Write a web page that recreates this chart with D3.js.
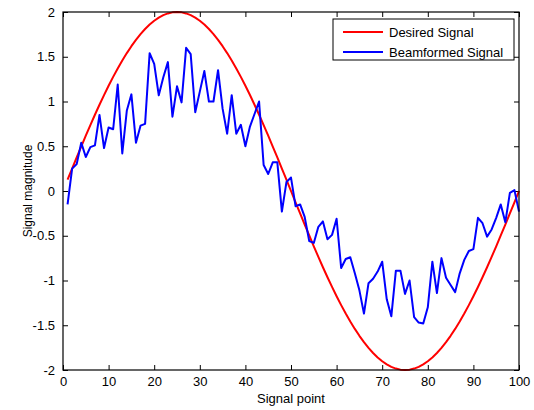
<!DOCTYPE html>
<html>
<head>
<meta charset="utf-8">
<script src="https://cdn.jsdelivr.net/npm/d3@7"></script>
<style>
  body { margin: 0; background: #fff; }
  svg { display: block; font-family: Arial, "Liberation Sans", sans-serif; }
</style>
</head>
<body>
<div id="chart"></div>
<script>
// signal index 1..100
const points = d3.range(1, 101);

// desired signal
const desiredHalf = [
  0.126, 0.251, 0.375, 0.497, 0.618, 0.736, 0.852, 0.964, 1.072, 1.176,
  1.275, 1.369, 1.458, 1.541, 1.618, 1.689, 1.753, 1.810, 1.860, 1.902,
  1.937, 1.965, 1.984, 1.996, 2.000, 1.996, 1.984, 1.965, 1.937, 1.902,
  1.860, 1.810, 1.753, 1.689, 1.618, 1.541, 1.458, 1.369, 1.275, 1.176,
  1.072, 0.964, 0.852, 0.736, 0.618, 0.497, 0.375, 0.251, 0.126, 0.000
];
const desired = desiredHalf.concat(desiredHalf.map((v) => -v));

// beamformed signal (blue, noisy)
const beamformed = [
  -0.15, 0.25, 0.30, 0.54, 0.38, 0.49, 0.51, 0.85, 0.48, 0.71,
  0.69, 1.19, 0.42, 0.90, 1.08, 0.54, 0.73, 0.75, 1.54, 1.42,
  1.07, 1.27, 1.44, 0.83, 1.17, 0.99, 1.60, 1.53, 0.88, 1.11,
  1.34, 1.00, 1.00, 1.35, 0.92, 0.64, 1.07, 0.64, 0.74, 0.50,
  0.72, 0.86, 1.00, 0.29, 0.19, 0.32, 0.32, -0.23, 0.10, 0.15,
  -0.17, -0.15, -0.29, -0.56, -0.58, -0.40, -0.34, -0.54, -0.49, -0.31,
  -0.86, -0.76, -0.74, -0.92, -1.11, -1.37, -1.03, -0.98, -0.90, -0.79,
  -1.21, -1.40, -0.89, -0.89, -1.15, -1.00, -1.41, -1.47, -1.48, -1.30,
  -0.79, -1.14, -0.75, -0.97, -1.05, -1.13, -0.92, -0.77, -0.67, -0.65,
  -0.30, -0.36, -0.51, -0.43, -0.30, -0.15, -0.35, -0.02, 0.01, -0.23
];

const xTicks = d3.range(0, 101, 10);
const yTicks = [-2, -1.5, -1, -0.5, 0, 0.5, 1, 1.5, 2];
const legendItems = [
  { name: 'Desired Signal', color: '#ff0000' },
  { name: 'Beamformed Signal', color: '#0000ff' },
];

const W = 534, H = 410;
const m = { left: 63, right: 15, top: 12, bottom: 40 };
const iw = W - m.left - m.right;
const ih = H - m.top - m.bottom;

const svg = d3.select('#chart').append('svg')
  .attr('width', W).attr('height', H);

const g = svg.append('g').attr('transform', `translate(${m.left},${m.top})`);

const x = d3.scaleLinear().domain([0, 100]).range([0, iw]);
const y = d3.scaleLinear().domain([-2, 2]).range([ih, 0]);

const fmt = (d) => String(d);

function styleAxis(sel) {
  sel.select('.domain').remove();
  sel.selectAll('line').attr('stroke', '#000');
  sel.selectAll('text').attr('fill', '#000').style('font-size', '13px');
}

g.append('g').attr('transform', `translate(0,${ih})`)
  .call(d3.axisBottom(x).tickValues(xTicks).tickFormat(fmt).tickSize(-5).tickPadding(7))
  .call(styleAxis);
g.append('g')
  .call(d3.axisTop(x).tickValues(xTicks).tickFormat('').tickSize(-5))
  .call(styleAxis);
g.append('g')
  .call(d3.axisLeft(y).tickValues(yTicks).tickFormat(fmt).tickSize(-5).tickPadding(8))
  .call(styleAxis);
g.append('g').attr('transform', `translate(${iw},0)`)
  .call(d3.axisRight(y).tickValues(yTicks).tickFormat('').tickSize(-5))
  .call(styleAxis);

const line = (vals) => d3.line()
  .x((d, i) => x(points[i]))
  .y((d) => y(d))(vals);

g.append('path').attr('d', line(desired))
  .attr('fill', 'none').attr('stroke', legendItems[0].color).attr('stroke-width', 2)
  .attr('stroke-linejoin', 'round');
g.append('path').attr('d', line(beamformed))
  .attr('fill', 'none').attr('stroke', legendItems[1].color).attr('stroke-width', 2)
  .attr('stroke-linejoin', 'round');

// axes box
g.append('rect').attr('width', iw).attr('height', ih)
  .attr('fill', 'none').attr('stroke', '#000').attr('stroke-width', 1.2);

// axis labels
svg.append('text')
  .attr('x', m.left + iw / 2).attr('y', 403)
  .attr('text-anchor', 'middle').style('font-size', '13px')
  .text('Signal point');
svg.append('text')
  .attr('transform', `translate(28,${m.top + ih / 2}) rotate(-90)`)
  .attr('text-anchor', 'middle').attr('dy', '0.35em').style('font-size', '12px')
  .text('Signal magnitude');

// legend
const lg = svg.append('g').attr('transform', 'translate(333,19)');
lg.append('rect').attr('width', 181).attr('height', 41)
  .attr('fill', '#fff').attr('stroke', '#000').attr('stroke-width', 1);
legendItems.forEach((it, i) => {
  const yy = 13 + i * 20;
  lg.append('line').attr('x1', 10).attr('x2', 50).attr('y1', yy).attr('y2', yy)
    .attr('stroke', it.color).attr('stroke-width', 2);
  lg.append('text').attr('x', 56).attr('y', yy).attr('dy', '0.35em')
    .style('font-size', '13px').text(it.name);
});
</script>
</body>
</html>
